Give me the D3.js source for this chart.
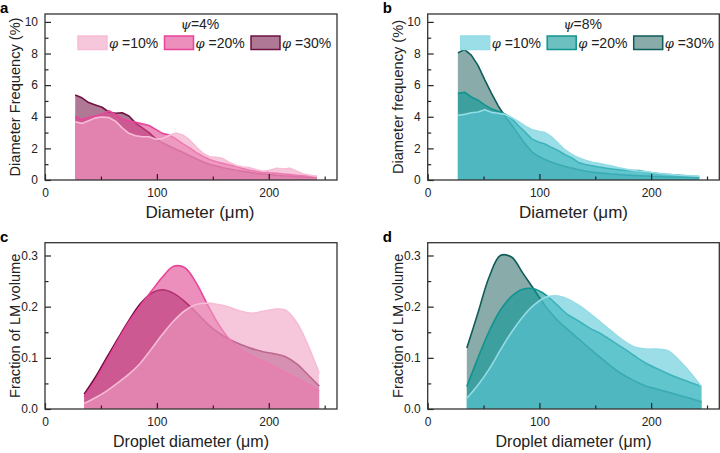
<!DOCTYPE html>
<html>
<head>
<meta charset="utf-8">
<script src="https://cdn.jsdelivr.net/npm/d3@7"></script>
<style>
body { margin: 0; background: #fff; }
svg { font-family: "Liberation Sans", Arial, sans-serif; }
.axTitle { fill: #222; }
.letter { font-size: 15px; font-weight: bold; fill: #000; }
.leg { font-size: 14px; fill: #222; }
</style>
</head>
<body>
<div id="chart"></div>
<script>

// diameter grid for the histograms (a, b)
const diam = [27,33,39,45,51,57,63,69,75,81,87,93,99,105,111,117,123,129,135,141,147,153,159,165,171,177,183,189,195,201,207,213,219,225,231,237,243]

// panel a, psi = 4%
const a10 = [3.68,3.58,3.75,3.93,3.98,3.95,3.72,3.3,2.95,2.8,2.74,2.74,2.58,2.62,2.82,2.97,2.85,2.55,2.1,1.7,1.47,1.43,1.35,1.1,0.92,0.82,0.78,0.65,0.55,0.62,0.74,0.7,0.74,0.55,0.38,0.3,0.22]
const a20 = [4.04,3.82,3.95,4.05,4.15,4.38,4.15,3.85,3.75,3.65,3.55,3.45,3.2,2.95,2.85,2.6,2.3,2.05,1.75,1.5,1.3,1.15,1.05,0.95,0.85,0.72,0.62,0.55,0.5,0.45,0.42,0.38,0.34,0.3,0.27,0.24,0.22]
const a30 = [5.37,5.2,4.9,4.75,4.6,4.3,4.22,4.25,4.05,3.6,3.3,3.0,2.6,2.35,2.15,1.95,1.75,1.55,1.35,1.15,1.0,0.88,0.78,0.7,0.62,0.55,0.48,0.42,0.38,0.34,0.3,0.27,0.25,0.22,0.2,0.18,0.17]

// panel b, psi = 8%
const b10 = [4.1,4.15,4.25,4.3,4.45,4.28,4.22,4.15,3.95,3.7,3.42,3.2,3.08,3.0,2.72,2.3,1.9,1.62,1.4,1.25,1.12,1.05,0.96,0.88,0.78,0.69,0.62,0.57,0.53,0.47,0.42,0.38,0.34,0.3,0.28,0.26,0.24]
const b20 = [5.48,5.55,5.25,5.05,4.75,4.5,4.35,4.18,3.9,3.45,3.05,2.6,2.4,2.28,2.05,1.85,1.6,1.4,1.1,0.98,0.9,0.82,0.75,0.7,0.65,0.6,0.6,0.6,0.5,0.45,0.4,0.36,0.33,0.3,0.27,0.24,0.22]
const b30 = [8.04,8.25,7.9,7.25,6.35,5.5,4.7,4.05,3.5,2.9,2.3,1.8,1.5,1.3,1.12,0.98,0.85,0.75,0.65,0.57,0.5,0.45,0.42,0.38,0.35,0.32,0.29,0.27,0.25,0.23,0.22,0.2,0.19,0.18,0.17,0.16,0.15]

// droplet diameter grid for the volume fractions (c, d)
const dropDiam = [35,45,55,65,75,85,95,105,115,125,135,145,155,165,175,185,195,205,215,225,235,245]

const c10 = [0.011,0.022,0.035,0.051,0.068,0.089,0.117,0.146,0.172,0.192,0.204,0.207,0.204,0.199,0.191,0.187,0.191,0.195,0.193,0.169,0.125,0.070]
const c20 = [0.024,0.056,0.094,0.133,0.170,0.201,0.230,0.258,0.279,0.276,0.247,0.205,0.166,0.136,0.117,0.103,0.093,0.083,0.071,0.060,0.048,0.035]
const c30 = [0.029,0.062,0.100,0.137,0.173,0.205,0.226,0.233,0.226,0.210,0.189,0.167,0.149,0.136,0.126,0.118,0.112,0.108,0.102,0.088,0.067,0.045]

const d10 = [0.021,0.047,0.078,0.115,0.150,0.180,0.203,0.218,0.221,0.215,0.203,0.187,0.169,0.151,0.134,0.121,0.117,0.117,0.114,0.095,0.071,0.044]
const d20 = [0.044,0.100,0.152,0.193,0.220,0.234,0.235,0.224,0.205,0.185,0.172,0.158,0.147,0.133,0.119,0.104,0.090,0.079,0.069,0.060,0.052,0.044]
const d30 = [0.119,0.188,0.258,0.300,0.297,0.266,0.234,0.202,0.176,0.156,0.137,0.118,0.100,0.082,0.067,0.055,0.045,0.039,0.033,0.027,0.021,0.014]

const legendLabels = ['=10%', '=20%', '=30%']
const psiLabels = ['=4%', '=8%']
const xTickVals = [0, 100, 200]
const xMinorVals = [50, 150, 250]
const freqTicks = [0, 2, 4, 6, 8, 10]
const freqMinor = [1, 3, 5, 7, 9]
const volTicks = [0, 0.1, 0.2, 0.3]
const volMinor = [0.05, 0.15, 0.25]

const pink = {
    fill: ['#f0a0c3', '#e0458f', '#7a2050'],
    stroke: ['#f7bcd6', '#e8449a', '#6e1242'],
}
const teal = {
    fill: ['#5ac8d7', '#0a9696', '#3a7472'],
    stroke: ['#94dce6', '#10948f', '#0f5c5a'],
}

const W = 720, H = 453

const svg = d3.select('#chart').append('svg').attr('width', W).attr('height', H)

function panel(cfg) {

    const x = d3.scaleLinear().domain([0, 261]).range([cfg.left, cfg.right])
    const y = d3.scaleLinear().domain(cfg.yDomain).range([cfg.bottom, cfg.top])

    const g = svg.append('g')

    // series drawn 30% first, 10% on top
    const order = [2, 1, 0]
    order.forEach(function (k) {
        const pts = cfg.xs.map((d, i) => ({ d: d, v: cfg.series[k][i] }))

        const area = d3.area().x(p => x(p.d)).y0(y(0)).y1(p => y(p.v)).curve(cfg.curve)
        const line = d3.line().x(p => x(p.d)).y(p => y(p.v)).curve(cfg.curve)

        g.append('path').datum(pts)
            .attr('d', area)
            .attr('fill', cfg.col.fill[k])
            .attr('fill-opacity', 0.6)

        g.append('path').datum(pts)
            .attr('d', line)
            .attr('fill', 'none')
            .attr('stroke', cfg.col.stroke[k])
            .attr('stroke-width', 1.6)
            .attr('stroke-linejoin', 'round')
    })

    // axes, ticks pointing inwards
    const xAx = svg.append('g').attr('transform', `translate(0,${cfg.bottom})`)
        .call(d3.axisBottom(x).tickValues(xTickVals).tickSizeInner(-6).tickSizeOuter(0).tickPadding(8))
    xAx.select('.domain').remove()

    const xMin = svg.append('g').attr('transform', `translate(0,${cfg.bottom})`)
        .call(d3.axisBottom(x).tickValues(xMinorVals).tickSizeInner(-3.5).tickSizeOuter(0).tickFormat(''))
    xMin.select('.domain').remove()

    const yAx = svg.append('g').attr('transform', `translate(${cfg.left},0)`)
        .call(d3.axisLeft(y).tickValues(cfg.yTicks).tickFormat(cfg.yFmt).tickSizeInner(-6).tickSizeOuter(0).tickPadding(7))
    yAx.select('.domain').remove()

    const yMin = svg.append('g').attr('transform', `translate(${cfg.left},0)`)
        .call(d3.axisLeft(y).tickValues(cfg.yMinor).tickSizeInner(-3.5).tickSizeOuter(0).tickFormat(''))
    yMin.select('.domain').remove()

    svg.selectAll('.tick line').attr('stroke', '#222').attr('stroke-width', 1.2)
    svg.selectAll('.tick text').style('font-size', '12px').style('fill', '#222')

    // frame
    svg.append('rect')
        .attr('x', cfg.left).attr('y', cfg.top)
        .attr('width', cfg.right - cfg.left).attr('height', cfg.bottom - cfg.top)
        .attr('fill', 'none').attr('stroke', '#333').attr('stroke-width', 1.3)

    // titles
    svg.append('text').attr('class', 'axTitle')
        .attr('x', (cfg.left + cfg.right) / 2 + cfg.xShift).attr('y', cfg.bottom + cfg.xDrop)
        .attr('text-anchor', 'middle').style('font-size', cfg.xSize + 'px').text(cfg.xlabel)

    svg.append('text').attr('class', 'axTitle')
        .attr('transform', `translate(${cfg.left - 30},${(cfg.top + cfg.bottom) / 2}) rotate(-90)`)
        .attr('text-anchor', 'middle').attr('dy', '0.35em').style('font-size', '14.6px').text(cfg.ylabel)

    svg.append('text').attr('class', 'letter')
        .attr('x', cfg.left - cfg.letterOff).attr('y', cfg.top - 1).text(cfg.letter)

    // legend
    if (cfg.psi) {
        const t = svg.append('text').attr('class', 'leg')
            .attr('x', cfg.left + 155).attr('y', cfg.top + 15).attr('text-anchor', 'middle')
        t.append('tspan').attr('font-style', 'italic').attr('font-family', '"DejaVu Serif", serif').attr('font-size', 13).text('ψ')
        t.append('tspan').text(cfg.psi)

        legendLabels.forEach(function (lab, k) {
            const lx = cfg.left + 33 + k * 86.5
            svg.append('rect')
                .attr('x', lx).attr('y', cfg.top + 22)
                .attr('width', 29).attr('height', 13.5)
                .attr('fill', cfg.col.fill[k]).attr('fill-opacity', 0.6)
                .attr('stroke', cfg.col.stroke[k]).attr('stroke-width', 1.5)
            const lt = svg.append('text').attr('class', 'leg')
                .attr('x', lx + 31).attr('y', cfg.top + 34)
            lt.append('tspan').attr('font-style', 'italic').attr('font-family', '"DejaVu Serif", serif').attr('font-size', 13).text('φ')
            lt.append('tspan').text(' ' + lab)
        })
    }
}

const fmtInt = d3.format('d')
const fmtVol = d3.format('.1f')

panel({ left: 45, right: 337, top: 14, bottom: 180, yDomain: [0, 10.5], yTicks: freqTicks, yMinor: freqMinor, yFmt: fmtInt,
    xs: diam, series: [a10, a20, a30], col: pink, curve: d3.curveLinear,
    letter: 'a', letterOff: 45, xlabel: 'Diameter (μm)', xSize: 17, xShift: 9, xDrop: 38, ylabel: 'Diameter Frequency (%)', psi: psiLabels[0] })

panel({ left: 427.7, right: 719.3, top: 14, bottom: 180, yDomain: [0, 10.5], yTicks: freqTicks, yMinor: freqMinor, yFmt: fmtInt,
    xs: diam, series: [b10, b20, b30], col: teal, curve: d3.curveLinear,
    letter: 'b', letterOff: 45, xlabel: 'Diameter (μm)', xSize: 17, xShift: 0, xDrop: 38, ylabel: 'Diameter frequency (%)', psi: psiLabels[1] })

panel({ left: 45, right: 337, top: 242.7, bottom: 409, yDomain: [0, 0.325], yTicks: volTicks, yMinor: volMinor, yFmt: fmtVol,
    xs: dropDiam, series: [c10, c20, c30], col: pink, curve: d3.curveCatmullRom,
    letter: 'c', letterOff: 45, xlabel: 'Droplet diameter (μm)', xSize: 16, xShift: 0, xDrop: 38, ylabel: 'Fraction of LM volume' })

panel({ left: 427.7, right: 719.3, top: 242.7, bottom: 409, yDomain: [0, 0.325], yTicks: volTicks, yMinor: volMinor, yFmt: fmtVol,
    xs: dropDiam, series: [d10, d20, d30], col: teal, curve: d3.curveCatmullRom,
    letter: 'd', letterOff: 45, xlabel: 'Droplet diameter (μm)', xSize: 16, xShift: 0, xDrop: 38, ylabel: 'Fraction of LM volume' })

</script>
</body>
</html>
